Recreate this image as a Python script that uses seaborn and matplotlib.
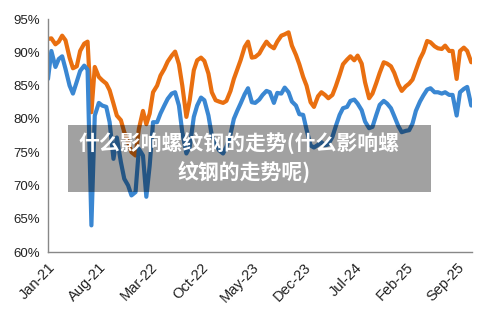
import pandas as pd
import seaborn as sns
import matplotlib.pyplot as plt
import matplotlib.dates as mdates
from matplotlib.patches import Rectangle

# semi-monthly readings, Jan-21 .. Nov-25
dates = pd.date_range('2021-01-01', '2025-11-01', freq='SMS')

orange = [92.0, 92.1, 91.2, 91.6, 92.5, 91.8, 89.2, 87.6, 87.9, 90.2,
          91.3, 91.6, 81.0, 87.8, 86.3, 85.8, 85.3, 84.3, 82.3, 80.5,
          79.8, 78.0, 76.5, 75.0, 74.5, 78.5, 81.2, 79.2, 80.8, 84.0,
          85.0, 86.5, 87.5, 88.6, 89.5, 90.1, 88.2, 85.0, 80.3, 82.8,
          87.3, 88.8, 89.2, 88.7, 86.8, 84.0, 82.8, 82.6, 82.4, 82.7,
          84.2, 86.0, 87.4, 88.8, 90.8, 91.6, 89.2, 89.3, 89.8, 90.7,
          91.6, 91.0, 90.6, 91.6, 92.5, 92.7, 93.0, 91.0, 89.6, 88.2,
          86.3, 85.0, 82.5, 81.8, 83.4, 84.0, 83.6, 83.1, 83.6, 84.9,
          86.6, 88.2, 88.9, 89.4, 88.8, 89.5, 88.3, 85.5, 83.1, 83.8,
          85.4, 86.9, 88.5, 88.3, 87.9, 86.9, 85.2, 84.2, 84.9, 85.3,
          85.9, 87.3, 89.0, 90.0, 91.7, 91.5, 90.9, 90.6, 90.5, 91.0,
          90.2, 90.2, 86.0, 90.2, 90.7, 90.2, 88.5]

blue = [86.0, 90.2, 87.8, 89.0, 89.4, 87.5, 85.0, 83.8, 85.6, 87.2,
        88.0, 87.4, 64.0, 80.5, 82.4, 82.0, 81.8, 79.5, 74.0, 77.2,
        73.5, 71.0, 70.0, 68.5, 69.0, 75.5, 74.5, 68.3, 73.0, 79.5,
        79.5, 80.8, 82.0, 83.0, 83.8, 84.0, 82.0, 78.0, 74.8, 75.8,
        80.3, 82.0, 83.2, 82.8, 80.5, 77.5, 76.4, 75.3, 74.8, 75.8,
        77.7, 80.0, 81.2, 82.3, 83.7, 84.6, 82.5, 82.4, 82.9, 83.6,
        84.2, 84.0, 82.4, 83.9, 83.8, 84.7, 84.0, 82.6, 82.0, 80.7,
        80.6, 78.4, 76.0, 75.7, 76.1, 76.5, 76.0, 76.2, 77.3, 78.9,
        80.6, 81.6, 81.8, 82.7, 82.9, 82.3, 81.3, 79.6, 78.6, 78.8,
        80.6, 82.1, 82.7, 82.3, 81.6, 80.4, 78.9, 78.0, 78.2, 78.3,
        79.3, 81.2, 82.6, 83.5, 84.4, 84.6, 84.0, 84.0, 83.8, 84.0,
        83.6, 83.6, 80.5, 84.0, 84.5, 84.8, 82.0]

y_ticks = [60, 65, 70, 75, 80, 85, 90, 95]
title_lines = ['什么影响螺纹钢的走势(什么影响螺', '纹钢的走势呢)']

df = pd.DataFrame({'date': list(dates) * 2,
                   'value': orange + blue,
                   'series': ['orange'] * len(orange) + ['blue'] * len(blue)})

sns.set_style('white')
plt.rcParams['font.family'] = ['Liberation Sans', 'DejaVu Sans']

fig = plt.figure(figsize=(5, 3.17), dpi=100)
ax = fig.add_axes([0.096, 0.205, 0.848, 0.735])

sns.lineplot(data=df, x='date', y='value', hue='series',
             palette={'orange': '#E96F10', 'blue': '#3A87D2'},
             linewidth=3, legend=False, ax=ax)

ax.set_ylim(60, 95)
ax.set_yticks(y_ticks)
ax.set_yticklabels([f'{v}%' for v in y_ticks])
ax.set_xlim(pd.Timestamp('2021-01-01'), pd.Timestamp('2025-11-04'))
ax.set_xticks(pd.date_range('2021-01-01', periods=9, freq='7MS'))
ax.xaxis.set_major_formatter(mdates.DateFormatter('%b-%y'))
ax.set_xlabel('')
ax.set_ylabel('')

for side in ['top', 'right']:
    ax.spines[side].set_visible(False)
for side in ['left', 'bottom']:
    ax.spines[side].set_color('#888888')
    ax.spines[side].set_linewidth(1)
ax.tick_params(axis='both', direction='out', length=3, width=1,
               color='#888888', labelcolor='#222222', pad=3)
ax.tick_params(axis='y', labelsize=9.5)
ax.tick_params(axis='x', labelsize=10.5)
plt.setp(ax.get_xticklabels(), rotation=46, ha='right', rotation_mode='anchor')

# grey caption banner
fig.patches.append(Rectangle((0.136, 0.394), 0.726, 0.211, transform=fig.transFigure,
                             facecolor='black', alpha=0.37, edgecolor='none', zorder=5))
fig.text(0.477, 0.549, title_lines[0], ha='center', va='center', color='white',
         fontsize=15, fontweight='bold', family=['Noto Sans CJK SC', 'DejaVu Sans'], zorder=6)
fig.text(0.488, 0.457, title_lines[1], ha='center', va='center', color='white',
         fontsize=15, fontweight='bold', family=['Noto Sans CJK SC', 'DejaVu Sans'], zorder=6)

fig.savefig('out.png', dpi=100)
